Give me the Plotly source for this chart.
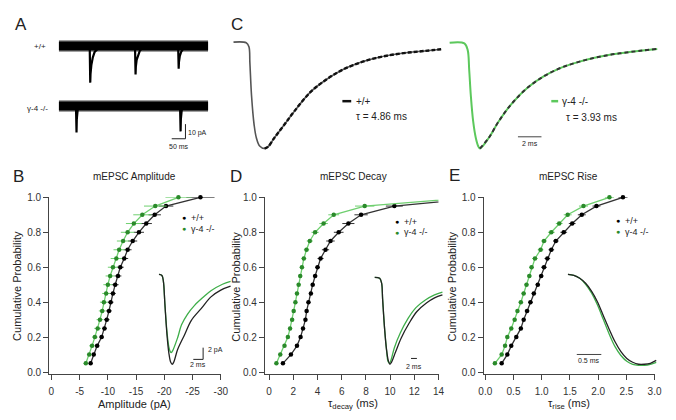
import plotly.graph_objects as go

W, H = 676, 420
FONT = "Arial, Liberation Sans, sans-serif"

# ------------------------------------------------------------------ data
prob = [0.05, 0.10, 0.15, 0.20, 0.25, 0.30, 0.35, 0.40, 0.45, 0.50,
        0.55, 0.60, 0.65, 0.70, 0.75, 0.80, 0.85, 0.90, 0.95, 1.00]

amp_wt = [-6.95, -7.5, -8.1, -8.9, -9.4, -9.8, -10.2, -10.5, -10.9, -11.3,
          -11.8, -12.2, -12.9, -13.5, -14.4, -15.5, -16.8, -18.3, -20.3, -26.4]
amp_ko = [-6.1, -6.7, -7.2, -7.7, -8.2, -8.6, -9.0, -9.3, -9.7, -10.0,
          -10.4, -10.9, -11.5, -12.0, -12.7, -13.5, -14.6, -16.1, -18.4, -22.5]
amp_wt_err = [0.3, 0.3, 0.4, 0.4, 0.4, 0.5, 0.5, 0.5, 0.5, 0.6,
              0.6, 0.6, 0.7, 0.7, 0.8, 0.9, 1.0, 1.1, 1.3, 2.5]
amp_ko_err = [0.4, 0.4, 0.5, 0.5, 0.6, 0.6, 0.6, 0.7, 0.7, 0.8,
              0.8, 0.9, 1.0, 1.0, 1.1, 1.2, 1.4, 1.6, 2.0, 2.3]

dec_wt = [1.14, 1.8, 2.3, 2.6, 2.8, 3.0, 3.1, 3.25, 3.45, 3.6,
          3.8, 4.0, 4.25, 4.66, 5.07, 5.75, 6.55, 7.6, 10.35, 18.0]
dec_ko = [0.6, 0.92, 1.27, 1.55, 1.73, 1.9, 2.03, 2.17, 2.3, 2.44,
          2.57, 2.71, 2.87, 3.09, 3.36, 3.8, 4.5, 5.34, 7.9, 17.0]
dec_wt_err = [0.1, 0.1, 0.1, 0.12, 0.12, 0.12, 0.12, 0.15, 0.15, 0.15,
              0.18, 0.2, 0.25, 0.3, 0.35, 0.4, 0.5, 0.55, 0.7, 1.0]
dec_ko_err = [0.1, 0.1, 0.1, 0.1, 0.1, 0.12, 0.12, 0.12, 0.15, 0.15,
              0.15, 0.18, 0.2, 0.22, 0.25, 0.3, 0.35, 0.45, 0.8, 1.0]

rise_wt = [0.29, 0.39, 0.46, 0.55, 0.63, 0.68, 0.74, 0.80, 0.86, 0.93,
           0.99, 1.04, 1.10, 1.17, 1.25, 1.39, 1.54, 1.71, 1.97, 2.44]
rise_ko = [0.17, 0.29, 0.35, 0.39, 0.46, 0.52, 0.57, 0.63, 0.68, 0.73,
           0.78, 0.82, 0.88, 0.98, 1.04, 1.17, 1.31, 1.46, 1.74, 2.2]
rise_wt_err = [0.02, 0.02, 0.03, 0.03, 0.03, 0.03, 0.04, 0.04, 0.04, 0.04,
               0.04, 0.05, 0.05, 0.05, 0.05, 0.06, 0.06, 0.07, 0.07, 0.08]
rise_ko_err = [0.02, 0.02, 0.03, 0.03, 0.03, 0.03, 0.03, 0.04, 0.04, 0.04,
               0.04, 0.04, 0.05, 0.05, 0.05, 0.06, 0.06, 0.07, 0.08, 0.08]

amp_ticks = [0, -5, -10, -15, -20, -25, -30]
amp_ticktext = ["0", "-5", "-10", "-15", "-20", "-25", "-30"]
prob_ticks = [0.0, 0.2, 0.4, 0.6, 0.8, 1.0]
prob_ticktext = ["0.0", "0.2", "0.4", "0.6", "0.8", "1.0"]
dec_ticks = [0, 2, 4, 6, 8, 10, 12, 14]
rise_ticks = [0.0, 0.5, 1.0, 1.5, 2.0, 2.5, 3.0]
rise_ticktext = ["0.0", "0.5", "1.0", "1.5", "2.0", "2.5", "3.0"]

# Panel A raw traces (ms, pA)
a_wt_band_t = [0, 543]
a_wt_band_v = [0, 0]
a_ko_band_t = [0, 543]
a_ko_band_v = [-41, -41]
a_wt_ev1_t = [112, 114, 115, 118, 123, 130, 140, 152]
a_wt_ev1_v = [0, -25, -19, -13, -8, -4, -2, 0]
a_wt_ev2_t = [277, 279, 280, 283, 288, 295, 305, 315]
a_wt_ev2_v = [0, -19.5, -14, -9.5, -6, -3, -1.5, 0]
a_wt_ev3_t = [434, 436, 437, 440, 445, 452, 460]
a_wt_ev3_v = [0, -15.5, -11, -7, -4, -2, 0]
a_ko_ev1_t = [62, 64, 65, 68, 72]
a_ko_ev1_v = [-41, -59, -50, -44, -41]
a_ko_ev2_t = [441, 443, 444, 447, 452]
a_ko_ev2_v = [-41, -58.3, -50, -44, -41]

# Panel C averaged mEPSCs (ms, normalised)
c_wt_t = [0, 1.08, 1.31, 1.39, 1.53, 1.75, 1.94, 2.22, 2.64, 2.92, 3.47, 4.31,
          5.14, 6.53, 7.92, 9.31, 10.69, 12.08, 13.47, 14.86, 16.25, 17.64]
c_wt_v = [0, -0.006, -0.043, -0.193, -0.502, -0.777, -0.899, -0.976, -1.0, -0.985,
          -0.9, -0.777, -0.654, -0.47, -0.349, -0.257, -0.195, -0.15, -0.119,
          -0.098, -0.083, -0.067]
c_ko_t = [0.03, 1.28, 1.56, 1.69, 1.83, 2.03, 2.25, 2.45, 2.6, 3.36, 4.19, 5.31,
          6.69, 8.08, 9.47, 10.86, 12.25, 13.64, 15.03, 16.42, 17.67]
c_ko_v = [-0.006, -0.012, -0.073, -0.257, -0.502, -0.746, -0.899, -0.976, -1.0,
          -0.899, -0.746, -0.578, -0.425, -0.318, -0.242, -0.19, -0.15, -0.119,
          -0.098, -0.079, -0.064]
c_wt_fit_start = 8
c_ko_fit_start = 8

# Insets (ms, pA / normalised)
b_in_wt_t = [0, 0.6, 0.9, 1.2, 1.6, 2.0, 2.4, 2.7, 3.0, 3.8, 5.2, 6.6, 8.6, 10.6, 12.6, 14.6]
b_in_wt_v = [0, -0.17, -1.17, -5.0, -10.0, -13.33, -15.0, -15.33, -15.0, -12.83,
             -10.33, -7.83, -5.83, -3.83, -2.67, -2.0]
b_in_ko_t = [0, 0.6, 0.9, 1.2, 1.6, 2.0, 2.3, 2.5, 2.8, 3.8, 4.6, 5.8, 7.26, 9.0,
             10.6, 12.94, 14.6]
b_in_ko_v = [0, -0.17, -1.17, -5.0, -9.5, -12.33, -13.17, -13.33, -13.0, -10.8,
             -8.6, -6.8, -5.28, -3.9, -2.78, -1.67, -1.17]

d_in_wt_t = [0, 1.67, 2.33, 2.67, 3.33, 4.0, 4.67, 5.17, 5.67, 7.0, 9.0, 11.67,
             14.33, 17.67, 20.33, 23]
d_in_wt_v = [0, -0.011, -0.067, -0.247, -0.584, -0.831, -0.966, -1.0, -0.978,
             -0.865, -0.697, -0.528, -0.393, -0.292, -0.236, -0.202]
d_in_ko_t = [0, 1.67, 2.33, 2.67, 3.33, 4.0, 4.5, 5.0, 5.5, 6.67, 8.67, 11.33,
             14.0, 17.33, 20.33, 23]
d_in_ko_v = [0, -0.011, -0.067, -0.247, -0.584, -0.831, -0.966, -0.989, -0.955,
             -0.809, -0.64, -0.472, -0.348, -0.258, -0.202, -0.169]

e_in_t = [0, 0.12, 0.24, 0.36, 0.48, 0.60, 0.72, 0.84, 0.96, 1.08, 1.20, 1.32,
          1.44, 1.56, 1.68, 1.80]
e_in_wt_v = [0, -0.011, -0.043, -0.098, -0.185, -0.304, -0.457, -0.609, -0.75,
             -0.859, -0.935, -0.978, -1.0, -1.0, -0.989, -0.957]
e_in_ko_v = [0, -0.011, -0.043, -0.109, -0.207, -0.337, -0.5, -0.663, -0.804,
             -0.902, -0.967, -1.0, -1.011, -1.011, -1.0, -0.978]

# ------------------------------------------------------------------ styles
BLACK_LINE = "#333333"
BLACK_MK = "#000000"
GREEN_LINE = "#6fcf6f"
GREEN_MK = "#2a8a2a"
GREEN_TRACE = "#5cc85c"
TXT = "#222222"


def fx(p):
    return p / W


def fy(p):
    return 1 - p / H


def dom_x(a, b):
    return [fx(a), fx(b)]


def dom_y(top, bottom):
    return [fy(bottom), fy(top)]


fig = go.Figure()
layout = dict(width=W, height=H, margin=dict(l=0, r=0, t=0, b=0),
              paper_bgcolor="white", plot_bgcolor="rgba(0,0,0,0)",
              showlegend=False, font=dict(family=FONT, color=TXT))

hidden = dict(visible=False, showgrid=False, zeroline=False)


def add_axes(n, xd, yd, xr, yr, xextra=None, yextra=None):
    xname = "xaxis" if n == 1 else f"xaxis{n}"
    yname = "yaxis" if n == 1 else f"yaxis{n}"
    xa = dict(domain=xd, range=xr, anchor="y" if n == 1 else f"y{n}")
    ya = dict(domain=yd, range=yr, anchor="x" if n == 1 else f"x{n}")
    xa.update(xextra if xextra else hidden)
    ya.update(yextra if yextra else hidden)
    layout[xname] = xa
    layout[yname] = ya


def ax_style(**kw):
    d = dict(visible=True, showline=True, linecolor="#444", linewidth=1,
             ticks="outside", ticklen=5, tickcolor="#444", tickwidth=1,
             tickfont=dict(size=10, color="#333", family=FONT),
             showgrid=False, zeroline=False)
    d.update(kw)
    return d


# ---- Panel A (axis 1): x ms, y pA
A_MS_PER_PX = 50 / 14.0
A_PA_PER_PX = 10 / 15.0
add_axes(1, dom_x(50, 212), dom_y(25, 150),
         [(50 - 55) * A_MS_PER_PX, (212 - 55) * A_MS_PER_PX],
         [-(150 - 41) * A_PA_PER_PX, -(25 - 41) * A_PA_PER_PX])
for bt, bv in [(a_wt_band_t, a_wt_band_v), (a_ko_band_t, a_ko_band_v)]:
    fig.add_trace(go.Scatter(x=bt, y=bv, mode="lines", xaxis="x", yaxis="y",
                             line=dict(color="#444", width=11), hoverinfo="skip"))
    fig.add_trace(go.Scatter(x=bt, y=bv, mode="lines", xaxis="x", yaxis="y",
                             line=dict(color="#000", width=8), hoverinfo="skip"))
for et, ev in [(a_wt_ev1_t, a_wt_ev1_v), (a_wt_ev2_t, a_wt_ev2_v),
               (a_wt_ev3_t, a_wt_ev3_v), (a_ko_ev1_t, a_ko_ev1_v),
               (a_ko_ev2_t, a_ko_ev2_v)]:
    fig.add_trace(go.Scatter(x=et, y=ev, mode="lines", xaxis="x", yaxis="y",
                             line=dict(color="#000", width=2.2), hoverinfo="skip"))

# ---- Panel C (axes 2,3): x ms, y normalised
C_MS_PER_PX = 1 / 12.0
C_AMP_PER_PX = 1 / 109.0
c_xr = [(230 - 233) * C_MS_PER_PX, (448 - 233) * C_MS_PER_PX]
c_yr = [-(150 - 37) * C_AMP_PER_PX, -(30 - 37) * C_AMP_PER_PX]
add_axes(2, dom_x(230, 448), dom_y(30, 150), c_xr, c_yr)
add_axes(3, dom_x(450, 668), dom_y(30, 150), c_xr, c_yr)
fig.add_trace(go.Scatter(x=c_wt_t, y=c_wt_v, mode="lines", xaxis="x2", yaxis="y2",
                         line=dict(color="#555", width=1.6, shape="spline"),
                         hoverinfo="skip"))
fig.add_trace(go.Scatter(x=c_wt_t[c_wt_fit_start:], y=c_wt_v[c_wt_fit_start:],
                         mode="lines", xaxis="x2", yaxis="y2",
                         line=dict(color="#111", width=2.4, dash="4px,2px",
                                   shape="spline"), hoverinfo="skip"))
fig.add_trace(go.Scatter(x=c_ko_t, y=c_ko_v, mode="lines", xaxis="x3", yaxis="y3",
                         line=dict(color=GREEN_TRACE, width=2, shape="spline"),
                         hoverinfo="skip"))
fig.add_trace(go.Scatter(x=c_ko_t[c_ko_fit_start:], y=c_ko_v[c_ko_fit_start:],
                         mode="lines", xaxis="x3", yaxis="y3",
                         line=dict(color="#333", width=2, dash="4px,3px",
                                   shape="spline"), hoverinfo="skip"))


# ---- Panels B, D, E (axes 4,5,6)
def prob_yaxis():
    return ax_style(tickvals=prob_ticks, ticktext=prob_ticktext)


y_top, y_bot = 196, 377
y_rng = [-(y_bot - 375) / 179.0, 1.0]

add_axes(4, dom_x(45, 220), dom_y(y_top, y_bot), [0.4, -30], y_rng,
         ax_style(tickvals=amp_ticks, ticktext=amp_ticktext, ticklabelstandoff=3),
         prob_yaxis())
add_axes(5, dom_x(265, 442), dom_y(y_top, y_bot), [-0.35, 14], y_rng,
         ax_style(tickvals=dec_ticks, ticklabelstandoff=3), prob_yaxis())
add_axes(6, dom_x(488, 662.3), dom_y(y_top, y_bot), [-0.03, 3.0], y_rng,
         ax_style(tickvals=rise_ticks, ticktext=rise_ticktext, ticklabelstandoff=3),
         prob_yaxis())

panels = [
    (4, amp_wt, amp_wt_err, amp_ko, amp_ko_err, False),
    (5, dec_wt, dec_wt_err, dec_ko, dec_ko_err, True),
    (6, rise_wt, rise_wt_err, rise_ko, rise_ko_err, False),
]
for n, wt, wte, ko, koe, clip in panels:
    for vals, err, lc, mc in [(wt, wte, BLACK_LINE, BLACK_MK),
                              (ko, koe, GREEN_LINE, GREEN_MK)]:
        fig.add_trace(go.Scatter(
            x=vals, y=prob, mode="lines+markers", xaxis=f"x{n}", yaxis=f"y{n}",
            cliponaxis=clip,
            line=dict(color=lc, width=1.3),
            marker=dict(color=mc, size=4.5),
            error_x=dict(type="data", array=err, color=lc, thickness=1, width=0),
            hoverinfo="skip"))

# ---- Insets (axes 7,8,9)
B_MS_PER_PX = 1 / 5.0
B_PA_PER_PX = 1 / 6.0
add_axes(7, dom_x(155, 232), dom_y(270, 372),
         [(155 - 157) * B_MS_PER_PX, (232 - 157) * B_MS_PER_PX],
         [-(372 - 275) * B_PA_PER_PX, -(270 - 275) * B_PA_PER_PX])
fig.add_trace(go.Scatter(x=b_in_ko_t, y=b_in_ko_v, mode="lines", xaxis="x7", yaxis="y7",
                         line=dict(color="#3fae4a", width=1.3, shape="spline"),
                         hoverinfo="skip"))
fig.add_trace(go.Scatter(x=b_in_wt_t, y=b_in_wt_v, mode="lines", xaxis="x7", yaxis="y7",
                         line=dict(color="#222", width=1.3, shape="spline"),
                         hoverinfo="skip"))

D_MS_PER_PX = 1 / 3.0
D_AMP_PER_PX = 1 / 89.0
add_axes(8, dom_x(374, 448), dom_y(273, 372),
         [(374 - 377) * D_MS_PER_PX, (448 - 377) * D_MS_PER_PX],
         [-(372 - 278) * D_AMP_PER_PX, -(273 - 278) * D_AMP_PER_PX])
fig.add_trace(go.Scatter(x=d_in_ko_t, y=d_in_ko_v, mode="lines", xaxis="x8", yaxis="y8",
                         line=dict(color="#3fae4a", width=1.3, shape="spline"),
                         hoverinfo="skip"))
fig.add_trace(go.Scatter(x=d_in_wt_t, y=d_in_wt_v, mode="lines", xaxis="x8", yaxis="y8",
                         line=dict(color="#222", width=1.3, shape="spline"),
                         hoverinfo="skip"))

E_MS_PER_PX = 1 / 50.0
E_AMP_PER_PX = 1 / 92.0
add_axes(9, dom_x(570, 670), dom_y(270, 372),
         [(570 - 574) * E_MS_PER_PX, (670 - 574) * E_MS_PER_PX],
         [-(372 - 275) * E_AMP_PER_PX, -(270 - 275) * E_AMP_PER_PX])
fig.add_trace(go.Scatter(x=e_in_t, y=e_in_ko_v, mode="lines", xaxis="x9", yaxis="y9",
                         line=dict(color="#3fae4a", width=1.3, shape="spline"),
                         hoverinfo="skip"))
fig.add_trace(go.Scatter(x=e_in_t, y=e_in_wt_v, mode="lines", xaxis="x9", yaxis="y9",
                         line=dict(color="#222", width=1.3, shape="spline"),
                         hoverinfo="skip"))

# ------------------------------------------------------------------ shapes (scale bars, legend dashes)
shapes = []


def seg(xref, yref, x0, y0, x1, y1, color="#222", width=1):
    shapes.append(dict(type="line", xref=xref, yref=yref, x0=x0, y0=y0, x1=x1, y1=y1,
                       line=dict(color=color, width=width)))


# A: 10 pA / 50 ms
a_bar_t = (184 - 55) * A_MS_PER_PX
a_bar_v0 = -(121 - 41) * A_PA_PER_PX
seg("x", "y", a_bar_t, a_bar_v0, a_bar_t, a_bar_v0 - 10)
seg("x", "y", a_bar_t - 50, a_bar_v0 - 10, a_bar_t, a_bar_v0 - 10)
# C: 2 ms
seg("x3", "y3", (523 - 453) * C_MS_PER_PX, -(134 - 37) * C_AMP_PER_PX,
    (523 - 453) * C_MS_PER_PX + 2, -(134 - 37) * C_AMP_PER_PX, color="#444")
# B inset: 2 pA / 2 ms
seg("x7", "y7", 9, -12.5, 9, -14.5)
seg("x7", "y7", 7, -14.5, 9, -14.5)
# D inset: 2 ms
seg("x8", "y8", 12.33, -0.933, 14.33, -0.933)
# E inset: 0.5 ms
seg("x9", "y9", 0.18, -0.891, 0.68, -0.891, color="#444")
# C legend dashes
seg("paper", "paper", fx(344), fy(97.5), fx(353), fy(97.5), color="#111", width=2.5)
seg("paper", "paper", fx(557), fy(97.5), fx(564), fy(97.5), color=GREEN_TRACE, width=2.5)
layout["shapes"] = shapes

# ------------------------------------------------------------------ annotations
anns = []


def ann(text, x, y, size=10, xanchor="center", color=TXT, angle=0, ref="paper"):
    d = dict(text=text, showarrow=False, xanchor=xanchor, yanchor="middle",
             font=dict(size=size, color=color, family=FONT), textangle=angle)
    if ref == "paper":
        d.update(xref="paper", yref="paper", x=fx(x), y=fy(y))
    else:
        d.update(xref=ref[0], yref=ref[1], x=x, y=y)
    anns.append(d)


# panel letters
ann("A", 16, 19, 17)
ann("C", 237, 19, 17)
ann("B", 14, 175, 17)
ann("D", 236, 175, 17)
ann("E", 458, 174, 17)

# panel A labels
ann("+/+", 44, 42, 8, xanchor="right")
ann("γ-4 -/-", 46, 105, 8, xanchor="right")
ann("10 pA", a_bar_t + 3, a_bar_v0 - 6, 7, xanchor="left", ref=("x", "y"))
ann("50 ms", a_bar_t - 25, a_bar_v0 - 15.5, 7, ref=("x", "y"))

# panel C text
ann("+/+", 356, 97.5, 10, xanchor="left")
ann("τ = 4.86 ms", 356, 113, 10, xanchor="left")
ann("γ-4 -/-", 566, 97.5, 10, xanchor="left")
ann("τ = 3.93 ms", 570, 114, 10, xanchor="left")
ann("2 ms", 535, 141, 7)

# titles
ann("mEPSC Amplitude", 132, 175, 10)
ann("mEPSC Decay", 355, 175, 10)
ann("mEPSC Rise", 575, 175, 10)

# axis titles
for xc in [12, 236, 456]:
    ann("Cumulative Probability", xc, 287, 11, angle=-90)
ann("Amplitude (pA)", 132, 408, 11)
ann("τ<sub>decay</sub> (ms)", 355, 408, 11)
ann("τ<sub>rise</sub> (ms)", 575, 408, 11)

# legends in B, D, E
for mx, my in [(183, 217), (400, 221), (625, 220)]:
    ann("●", mx, my, 7, color="#000")
    ann("+/+", mx + 5, my, 9, xanchor="left")
    ann("●", mx, my + 11, 7, color=GREEN_MK)
    ann("γ-4 -/-", mx + 5, my + 11, 9, xanchor="left")

# inset scale-bar labels
ann("2 pA", 9.5, -12.9, 7, xanchor="left", ref=("x7", "y7"))
ann("2 ms", 8.0, -15.4, 7, ref=("x7", "y7"))
ann("2 ms", 13.33, -1.02, 7, ref=("x8", "y8"))
ann("0.5 ms", 0.43, -0.96, 7, ref=("x9", "y9"))

layout["annotations"] = anns
fig.update_layout(**layout)
fig.write_html("out.html", config={"displayModeBar": False},
               post_script="document.body.style.margin='0';document.body.style.padding='0';")
